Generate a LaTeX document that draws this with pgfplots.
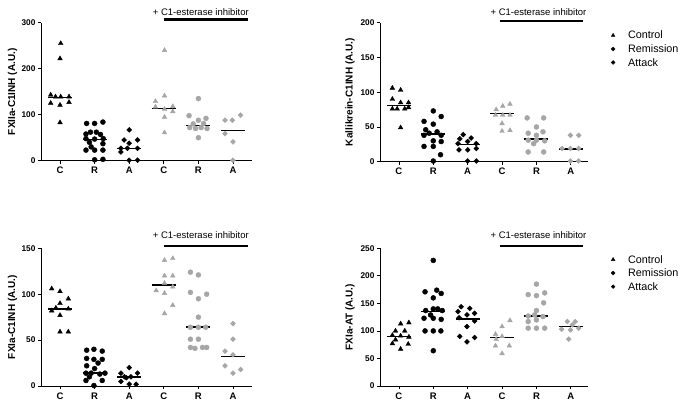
\documentclass[border=0pt]{standalone}
\usepackage{fontspec}
\setmainfont{Liberation Sans}
\usepackage{pgfplots}
\pgfplotsset{compat=1.18}
\definecolor{gr}{RGB}{166,166,166}
\pgfplotsset{
 panel/.style={
  scale only axis, anchor=south west,
  xmin=0.45, xmax=6.55, ymin=0,
  axis x line=bottom, axis y line=left,
  axis line style={-, line width=0.9pt},
  xtick={1,2,3,4,5,6}, xticklabels={C,R,A,C,R,A},
  tick align=outside, major tick length=3pt,
  tick style={line width=0.8pt, black},
  xticklabel style={font=\bfseries\fontsize{9.5}{10}\selectfont},
  yticklabel style={font=\bfseries\fontsize{8.3}{10}\selectfont, xshift=1pt},
  /pgf/number format/assume math mode=true,
  ylabel style={font=\bfseries\fontsize{10}{12}\selectfont, at={(axis description cs:-0.135,0.5)}, anchor=center},
  clip=false,
 },
 ctl/.style={only marks, mark=triangle*, mark size=2.7pt, color=#1},
 rem/.style={only marks, mark=*, mark size=2.5pt, color=#1},
 att/.style={only marks, mark=square*, mark size=1.75pt, every mark/.append style={rotate=45}, color=#1},
 med/.style={black, line width=1.5pt, forget plot},
 leg/.style={legend style={at={(1.096,#1)}, anchor=north west, draw=none, fill=none,
   font=\fontsize{10.8}{12}\selectfont, row sep=4.2pt,
   nodes={inner sep=0pt, anchor=base west},
   /tikz/every odd column/.append style={column sep=13pt}},
   legend cell align=left,
   legend image code/.code={\draw[##1, every mark/.append style={scale=0.78}] plot coordinates {(0pt,3.6pt)};}},
}
\newcommand{\esttext}{+ C1-esterase inhibitor}
\begin{document}
\begin{tikzpicture}
\useasboundingbox (0,0) rectangle (683pt,407pt);
% Panel 1
\begin{axis}[panel, at={(41pt,246.3pt)}, width=211pt, height=138pt, ymax=300, ytick={0,100,200,300}, ylabel={FXIIa-C1INH (A.U.)}]
\addplot[ctl=black] coordinates {(1.02,255)(1.0,222)(0.73,143)(0.87,139)(1.02,139)(1.26,139)(0.73,125)(1.0,121)(1.26,127)(1.0,83)};
\addplot[rem=black] coordinates {(1.77,81)(2.0,81)(2.24,84)(1.75,58)(1.88,62)(2.05,62)(2.17,57)(2.25,48)(1.75,48)(2.0,47)(1.85,40)(2.24,37)(1.75,23)(2.0,23)(2.24,23)(2.0,2)(2.24,3)(1.9,30)};
\addplot[att=black] coordinates {(3.0,67)(2.85,45)(3.24,45)(3.0,38)(2.76,27)(2.95,27)(3.24,27)(2.76,19)(3.0,1)(3.24,1)};
\addplot[ctl=gr] coordinates {(4.02,240)(4.02,141)(3.76,129)(3.76,117)(4.02,112)(4.26,118)(4.26,107)(4.02,95)(4.02,61)};
\addplot[rem=gr] coordinates {(5.0,135)(4.73,98)(5.22,92)(5.0,88)(4.85,80)(5.15,81)(4.75,72)(4.92,70)(5.08,72)(5.25,70)(5.0,50)};
\addplot[att=gr] coordinates {(5.77,88)(5.98,88)(6.22,99)(5.77,59)(6.0,41)(6.0,1)};
\addplot[med] coordinates {(0.65,137)(1.35,137)};
\addplot[med] coordinates {(1.65,46)(2.35,46)};
\addplot[med] coordinates {(2.65,26)(3.35,26)};
\addplot[med] coordinates {(3.65,114)(4.35,114)};
\addplot[med] coordinates {(4.65,77)(5.35,77)};
\addplot[med] coordinates {(5.65,66)(6.35,66)};
\draw[line width=2.5pt] (axis cs:4.0,306.9) -- (axis cs:6.44,306.9);
\node[font=\fontsize{9.5}{11}\selectfont] at (axis cs:5.07,323.4) {\esttext};
\end{axis}
% Panel 2
\begin{axis}[panel, at={(380pt,245.3pt)}, width=208pt, height=139pt, xmax=6.5, ymax=200, ytick={0,50,100,150,200}, ylabel={Kallikrein-C1INH (A.U.)}, ylabel style={at={(axis description cs:-0.144,0.5)}}, leg=0.955]
\addplot[ctl=black] coordinates {(0.81,106)(1.05,103)(0.81,90)(1.05,85)(1.28,85)(0.81,76)(0.95,76)(1.17,76)(1.28,78)(1.05,49)};
\addlegendentry{Control}
\addplot[rem=black] coordinates {(2.0,73)(1.73,58)(2.23,65)(2.0,54)(1.78,46)(1.88,41)(2.11,43)(2.23,38)(1.73,38)(2.0,30)(2.23,29)(1.73,22)(2.0,22)(2.21,10)(2.0,1)};
\addlegendentry{Remission}
\addplot[att=black] coordinates {(2.87,39)(2.77,33)(3.1,34)(3.0,29)(2.72,26)(3.25,26)(2.75,17)(3.0,17)(3.25,19)(3.0,1)(3.25,1)};
\addlegendentry{Attack}
\addplot[ctl=gr, forget plot] coordinates {(4.02,80)(4.23,83)(3.83,75)(3.81,67)(4.02,67)(4.23,67)(4.0,55)(4.0,44)(4.23,45)};
\addplot[rem=gr, forget plot] coordinates {(4.73,63)(5.21,63)(5.0,50)(4.76,41)(5.19,43)(5.0,38)(4.76,31)(5.0,31)(5.24,30)(4.92,26)(4.76,14)(5.21,14)};
\addplot[att=gr, forget plot] coordinates {(5.99,38)(6.23,38)(5.75,19)(5.99,19)(6.23,19)(5.99,1)(6.23,1)};
\addplot[med] coordinates {(0.65,81)(1.35,81)};
\addplot[med] coordinates {(1.65,40)(2.35,40)};
\addplot[med] coordinates {(2.65,25)(3.35,25)};
\addplot[med] coordinates {(3.65,69)(4.35,69)};
\addplot[med] coordinates {(4.65,33)(5.35,33)};
\addplot[med] coordinates {(5.65,18)(6.35,18)};
\draw[line width=2.5pt] (axis cs:3.94,202.8) -- (axis cs:6.35,202.8);
\node[font=\fontsize{9.5}{11}\selectfont] at (axis cs:5.06,215.8) {\esttext};
\end{axis}
% Panel 3
\begin{axis}[panel, at={(41pt,21pt)}, width=211pt, height=137.7pt, ymax=150, ytick={0,50,100,150}, ylabel={FXIa-C1INH (A.U.)}]
\addplot[ctl=black] coordinates {(0.76,106)(1.0,103)(1.24,95)(1.0,90)(0.76,82)(0.88,85)(1.24,84)(1.0,77)(1.0,59)(1.24,59)};
\addplot[rem=black] coordinates {(1.77,39)(1.98,40)(2.22,38)(1.77,30)(1.98,29)(2.22,29)(2.1,25)(1.77,22)(2.0,19)(1.75,14)(1.9,14)(2.15,13)(2.3,14)(1.85,10)(1.75,6)(2.22,6)(1.98,0.5)};
\addplot[att=black] coordinates {(3.0,20)(2.76,14)(3.24,14)(2.86,10)(3.05,10)(2.92,9)(2.76,5)(3.0,2)(3.2,2)};
\addplot[ctl=gr] coordinates {(4.02,137)(4.26,139)(4.02,120)(4.26,120)(3.78,104)(4.02,101)(4.26,108)(4.02,112)(4.26,88)(4.02,79)};
\addplot[rem=gr] coordinates {(4.77,124)(5.0,121)(4.77,102)(5.0,95)(5.24,100)(5.0,75)(4.77,64)(5.0,64)(5.21,64)(4.77,51)(5.0,51)(4.77,42)(4.9,41)(5.12,42)(5.24,42)};
\addplot[att=gr] coordinates {(6.0,68)(6.0,51)(5.77,38)(6.0,34)(5.77,22)(6.22,18)(6.0,14)};
\addplot[med] coordinates {(0.65,84)(1.35,84)};
\addplot[med] coordinates {(1.65,14)(2.35,14)};
\addplot[med] coordinates {(2.65,10)(3.35,10)};
\addplot[med] coordinates {(3.65,110)(4.35,110)};
\addplot[med] coordinates {(4.65,64)(5.35,64)};
\addplot[med] coordinates {(5.65,32)(6.35,32)};
\draw[line width=2.5pt] (axis cs:4.0,152.5) -- (axis cs:6.44,152.5);
\node[font=\fontsize{9.5}{11}\selectfont] at (axis cs:5.07,164.5) {\esttext};
\end{axis}
% Panel 4
\begin{axis}[panel, at={(380pt,21pt)}, width=208pt, height=137.7pt, xmax=6.5, ymax=250, ytick={0,50,100,150,200,250}, ylabel={FXIa-AT (A.U.)}, ylabel style={at={(axis description cs:-0.144,0.5)}}, leg=0.965]
\addplot[ctl=black] coordinates {(1.05,113)(1.29,115)(0.9,100)(1.17,100)(0.81,92)(1.05,91)(1.29,89)(0.9,84)(0.81,77)(1.27,76)(1.05,67)};
\addlegendentry{Control}
\addplot[rem=black] coordinates {(2.0,228)(1.76,171)(2.1,174)(2.23,168)(2.0,160)(1.78,137)(2.0,140)(2.13,140)(2.26,137)(1.92,129)(1.73,123)(2.0,123)(2.23,121)(1.76,100)(2.0,100)(2.22,100)(2.0,64)};
\addlegendentry{Remission}
\addplot[att=black] coordinates {(2.81,144)(3.06,141)(3.2,132)(2.72,135)(2.98,129)(2.75,124)(3.2,118)(2.98,108)(2.77,90)(3.2,88)(2.98,80)};
\addlegendentry{Attack}
\addplot[ctl=gr, forget plot] coordinates {(4.0,108)(4.23,119)(3.81,94)(4.0,90)(3.83,85)(4.21,73)(3.81,73)(4.0,59)};
\addplot[rem=gr, forget plot] coordinates {(5.0,185)(4.76,166)(5.0,164)(5.24,169)(5.21,151)(5.0,137)(4.76,127)(4.95,129)(5.19,126)(5.0,120)(4.76,117)(4.76,105)(5.0,105)(5.24,105)};
\addplot[att=gr, forget plot] coordinates {(5.9,117)(6.13,117)(6.04,111)(5.73,103)(5.99,102)(6.23,105)(5.94,85)};
\addplot[med] coordinates {(0.65,90)(1.35,90)};
\addplot[med] coordinates {(1.65,135)(2.35,135)};
\addplot[med] coordinates {(2.65,122)(3.35,122)};
\addplot[med] coordinates {(3.65,88)(4.35,88)};
\addplot[med] coordinates {(4.65,127)(5.35,127)};
\addplot[med] coordinates {(5.65,108)(6.35,108)};
\draw[line width=2.5pt] (axis cs:3.94,254.2) -- (axis cs:6.35,254.2);
\node[font=\fontsize{9.5}{11}\selectfont] at (axis cs:5.06,274) {\esttext};
\end{axis}
\end{tikzpicture}
\end{document}
